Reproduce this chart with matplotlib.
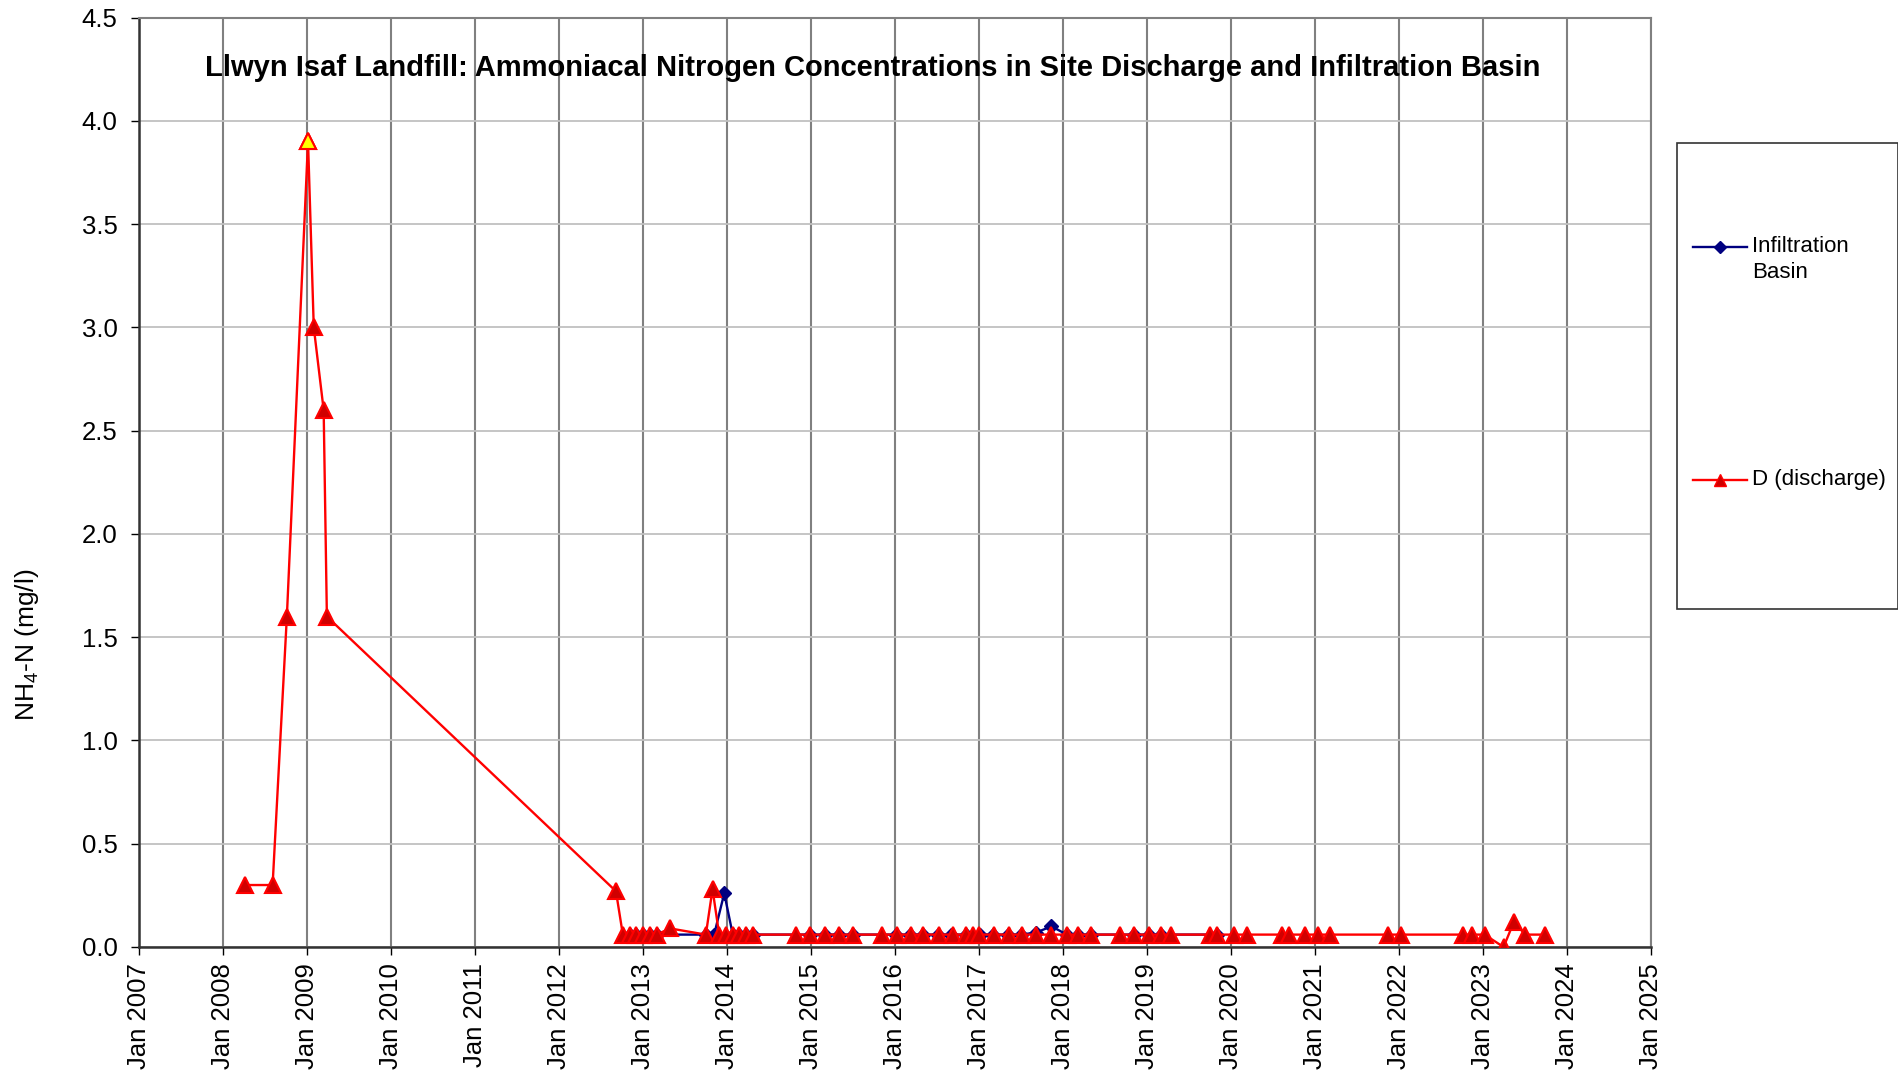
import pandas as pd
import numpy as np
import matplotlib
matplotlib.use("Agg")
import matplotlib.pyplot as plt
import matplotlib.dates as mdates
from matplotlib.lines import Line2D
from matplotlib.patches import Rectangle

plt.rcParams['font.family'] = ['Liberation Sans', 'DejaVu Sans']
plt.rcParams['mathtext.fontset'] = 'custom'
plt.rcParams['mathtext.rm'] = 'Liberation Sans'
plt.rcParams['mathtext.it'] = 'Liberation Sans:italic'

# --- data ---
d_dates = ["2008-04-05", "2008-08-04", "2008-10-05", "2009-01-05", "2009-01-30",
           "2009-03-14", "2009-03-28",
           "2012-09-05", "2012-10-05", "2012-11-03", "2012-12-02", "2013-01-02",
           "2013-01-30", "2013-03-01", "2013-04-28", "2013-10-01", "2013-10-30",
           "2013-11-28", "2013-12-28", "2014-01-26", "2014-02-24", "2014-03-25",
           "2014-04-23", "2014-10-30", "2014-12-28", "2015-03-01", "2015-05-05",
           "2015-07-02", "2015-11-04", "2016-01-10", "2016-03-09", "2016-05-04",
           "2016-07-12", "2016-09-08", "2016-11-06", "2016-12-06", "2017-01-02",
           "2017-03-08", "2017-05-12", "2017-07-06", "2017-09-06", "2017-11-10",
           "2018-01-18", "2018-03-07", "2018-05-01", "2018-09-08", "2018-11-06",
           "2019-01-08", "2019-03-04", "2019-04-17", "2019-10-01", "2019-11-03",
           "2020-01-15", "2020-03-10", "2020-08-10", "2020-09-12", "2020-11-17",
           "2021-01-15", "2021-03-08", "2021-11-14", "2022-01-12", "2022-10-08",
           "2022-11-14", "2023-01-08", "2023-04-01", "2023-05-15", "2023-07-05",
           "2023-09-27"]
d_vals = [0.30, 0.30, 1.60, 3.90, 3.00, 2.60, 1.60,
          0.27, 0.06, 0.06, 0.06, 0.06, 0.06, 0.06, 0.09, 0.06, 0.28,
          0.06, 0.06, 0.06, 0.06, 0.06, 0.06, 0.06, 0.06, 0.06, 0.06,
          0.06, 0.06, 0.06, 0.06, 0.06, 0.06, 0.06, 0.06, 0.06, 0.06,
          0.06, 0.06, 0.06, 0.06, 0.06, 0.06, 0.06, 0.06, 0.06, 0.06,
          0.06, 0.06, 0.06, 0.06, 0.06, 0.06, 0.06, 0.06, 0.06, 0.06,
          0.06, 0.06, 0.06, 0.06, 0.06, 0.06, 0.06, 0.00, 0.12, 0.06,
          0.06]
highlight_date = "2009-01-05"  # yellow marker

ib_dates = ["2012-11-03", "2012-12-02", "2013-01-02", "2013-01-30", "2013-03-01",
            "2013-10-01", "2013-11-06", "2013-12-20", "2014-01-26", "2014-02-24",
            "2014-03-25", "2014-04-23", "2014-12-28", "2015-03-01", "2015-05-05",
            "2015-07-02", "2016-01-08", "2016-03-07", "2016-05-01", "2016-07-08",
            "2016-09-02", "2016-11-06", "2017-01-04", "2017-03-04", "2017-05-08",
            "2017-07-02", "2017-09-06", "2017-11-12", "2018-01-18", "2018-03-07",
            "2018-05-01", "2018-11-06", "2019-01-08", "2019-03-04", "2019-11-03"]
ib_vals = [0.06, 0.06, 0.06, 0.06, 0.06, 0.06, 0.06, 0.26, 0.06, 0.06,
           0.06, 0.06, 0.06, 0.06, 0.06, 0.06, 0.06, 0.06, 0.06, 0.06,
           0.06, 0.06, 0.06, 0.06, 0.06, 0.06, 0.07, 0.10, 0.06, 0.06,
           0.06, 0.06, 0.06, 0.06, 0.06]

title = "Llwyn Isaf Landfill: Ammoniacal Nitrogen Concentrations in Site Discharge and Infiltration Basin"

d = pd.DataFrame({"date": pd.to_datetime(d_dates), "val": d_vals})
ib = pd.DataFrame({"date": pd.to_datetime(ib_dates), "val": ib_vals})

# --- figure ---
W, H = 1899, 1077
fig = plt.figure(figsize=(W / 100, H / 100), dpi=100)
ax = fig.add_axes([139 / W, 1 - 947 / H, (1651 - 139) / W, (947 - 17.5) / H])

ax.plot(ib["date"], ib["val"], color="#000080", lw=1.7, marker="D", ms=7,
        mfc="#000080", mec="#000080", zorder=3)
ax.plot(d["date"], d["val"], color="#FF0000", lw=1.7, marker="^", ms=12,
        mfc="#D00000", mec="#FF0000", mew=1.5, zorder=4)
hl = d[d["date"] == pd.Timestamp(highlight_date)]
ax.plot(hl["date"], hl["val"], ls="none", marker="^", ms=12, mfc="#FFFF00",
        mec="#FF0000", mew=1.5, zorder=5)

ax.set_xlim(pd.Timestamp("2007-01-01"), pd.Timestamp("2025-01-01"))
ax.set_ylim(0, 4.5)
ax.xaxis.set_major_locator(mdates.YearLocator())
ax.xaxis.set_major_formatter(mdates.DateFormatter("%b %Y"))
ax.set_yticks(np.arange(0, 4.51, 0.5))
ax.yaxis.set_major_formatter(matplotlib.ticker.FormatStrFormatter("%.1f"))

ax.grid(True, axis="x", color="#808080", lw=1.5, zorder=0)
ax.grid(True, axis="y", color="#C0C0C0", lw=1.3, zorder=0)
ax.set_axisbelow(True)
for s in ["top", "right"]:
    ax.spines[s].set_color("#808080")
    ax.spines[s].set_linewidth(1.5)
for s in ["left", "bottom"]:
    ax.spines[s].set_color("#333333")
    ax.spines[s].set_linewidth(1.8)

ax.tick_params(axis="y", direction="out", length=5.5, width=1, labelsize=18.5, pad=10)
ax.tick_params(axis="x", direction="out", length=5.5, width=1, labelsize=18.5, pad=6,
               labelrotation=90)

fig.text(873 / W, 1 - 68 / H, title, ha="center", va="center",
         fontsize=21, fontweight="bold")
fig.text(27 / W, 1 - 645 / H, r"NH$_4$-N (mg/l)", rotation=90, ha="center",
         va="center", fontsize=19)

# legend box
fig.patches.append(Rectangle((1677 / W, 1 - 609 / H), (1898 - 1677) / W,
                             (609 - 143) / H, transform=fig.transFigure,
                             fill=False, edgecolor="#333333", lw=1.2))
fig.lines.append(Line2D([1693 / W, 1720 / W, 1747 / W], [1 - 247 / H] * 3,
                        transform=fig.transFigure, color="#000080", lw=1.7,
                        marker="D", ms=6, markevery=[1]))
fig.text(1752 / W, 1 - 247 / H, "Infiltration", ha="left", va="center", fontsize=16)
fig.text(1752 / W, 1 - 273 / H, "Basin", ha="left", va="center", fontsize=16)
fig.lines.append(Line2D([1693 / W, 1720 / W, 1747 / W], [1 - 480 / H] * 3,
                        transform=fig.transFigure, color="#FF0000", lw=1.7,
                        marker="^", ms=8, mfc="#D00000", mec="#FF0000", markevery=[1]))
fig.text(1752 / W, 1 - 480 / H, "D (discharge)", ha="left", va="center", fontsize=16)

fig.savefig("out.png", dpi=100)
